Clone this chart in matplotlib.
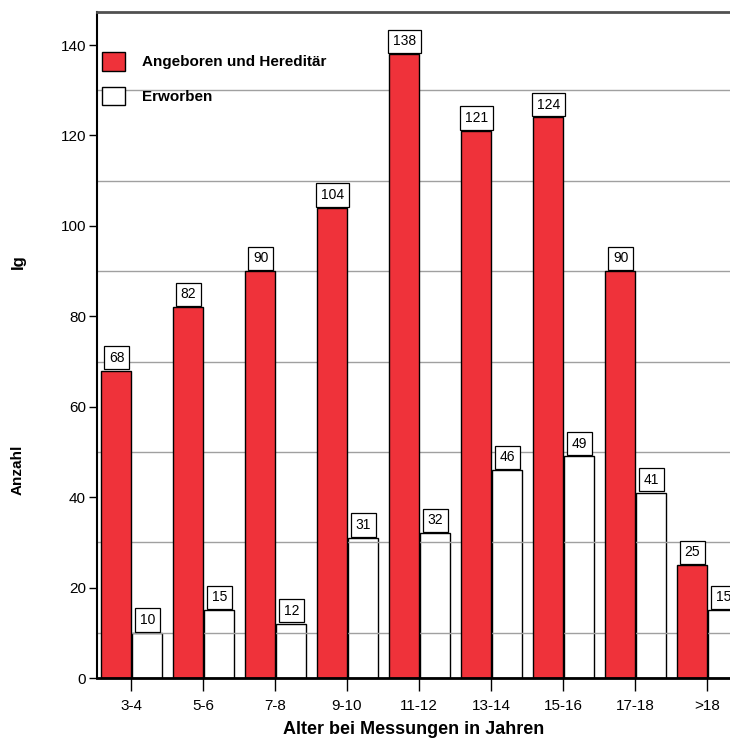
import numpy as np
import matplotlib
matplotlib.use('Agg')
import matplotlib.pyplot as plt

plt.rcParams['font.family'] = ['Liberation Sans', 'DejaVu Sans']

# data
age_groups = ['3-4', '5-6', '7-8', '9-10', '11-12', '13-14', '15-16', '17-18', '>18']
angeboren = [68, 82, 90, 104, 138, 121, 124, 90, 25]
erworben = [10, 15, 12, 31, 32, 46, 49, 41, 15]
series_names = ['Angeboren und Hereditär', 'Erworben']

red = '#ef323a'
width = 0.42

fig = plt.figure(figsize=(7.3, 7.41), dpi=100)
ax = fig.add_axes([97 / 730, 63 / 741, 633 / 730, 666 / 741])

x = np.arange(len(age_groups))

# grid lines on odd tens, visible through the unfilled white bars
for yv in range(10, 140, 20):
    ax.axhline(yv, color='#a0a0a0', linewidth=1.0, zorder=1.5)

b1 = ax.bar(x - width, angeboren, width=width, align='edge', color=red, edgecolor='black',
            linewidth=1.0, zorder=2, label=series_names[0])
b2 = ax.bar(x + 0.01, erworben, width=width, align='edge', color='none',
            edgecolor='black', linewidth=1.0, zorder=1, label=series_names[1])

for bars, vals in ((b1, angeboren), (b2, erworben)):
    for rect, v in zip(bars, vals):
        ax.annotate(str(v), xy=(rect.get_x() + rect.get_width() / 2 + 0.01, v),
                    xytext=(0, 4.2), textcoords='offset points', ha='center', va='bottom',
                    fontsize=10, zorder=5,
                    bbox=dict(boxstyle='square,pad=0.33', facecolor='white',
                              edgecolor='black', linewidth=0.9))

ax.set_xlim(-0.472, 8.32)
ax.set_ylim(0, 147.3)
ax.set_xticks(x)
ax.set_xticklabels(age_groups, fontsize=11)
ax.set_yticks(np.arange(0, 141, 20))
ax.tick_params(axis='y', labelsize=11, length=6, width=1.0, pad=2)
ax.tick_params(axis='x', length=9, width=1.0, pad=6)

ax.spines['right'].set_visible(False)
ax.spines['top'].set_color('#505050')
ax.spines['top'].set_linewidth(2)
ax.spines['left'].set_linewidth(1.5)
ax.spines['bottom'].set_linewidth(2)

ax.set_xlabel('Alter bei Messungen in Jahren', fontsize=13, fontweight='bold', labelpad=6)

fig.text(18 / 730, 1 - 470 / 741, 'Anzahl', rotation=90, fontsize=11, fontweight='bold',
         ha='center', va='center')
fig.text(18 / 730, 1 - 262 / 741, 'Ig', rotation=90, fontsize=12, fontweight='bold',
         ha='center', va='center')

leg = ax.legend(loc='upper left', bbox_to_anchor=(5 / 633, 1 - 40 / 666), frameon=False,
                prop={'size': 11, 'weight': 'bold'}, handlelength=1.5, handleheight=1.5,
                labelspacing=1.05, handletextpad=1.1, borderpad=0, borderaxespad=0)
for h in leg.legend_handles:
    h.set_edgecolor('black')
leg.legend_handles[1].set_facecolor('white')

fig.savefig('out.png', dpi=100)
